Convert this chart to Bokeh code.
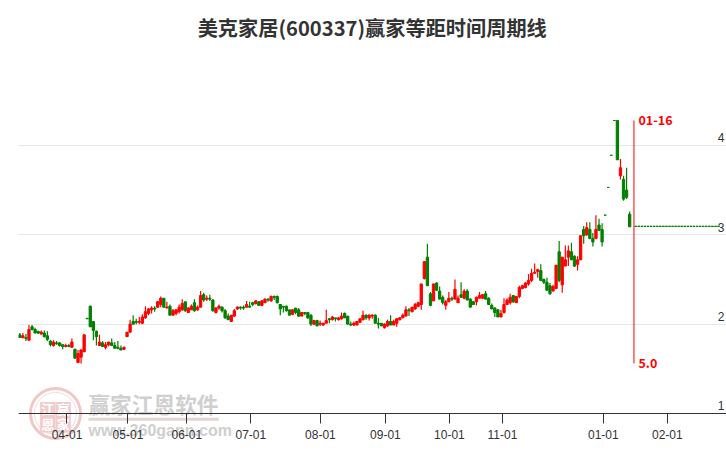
from bokeh.plotting import figure
from bokeh.models import FixedTicker, ColumnDataSource
from bokeh.core.properties import value
from bokeh.embed import file_html
from bokeh.resources import INLINE

title_text = "美克家居(600337)赢家等距时间周期线"
tick_pos = [15.4, 35.3, 54.5, 75.4, 98.1, 119.3, 140.2, 157.5, 190.4, 211.3]
tick_labels = ["04-01", "05-01", "06-01", "07-01", "08-01", "09-01", "10-01", "11-01", "01-01", "02-01"]
y_ticks = [1, 2, 3, 4]

opens = [1.88,1.85,1.85,1.82,1.97,1.94,1.92,1.89,1.90,1.87,1.81,1.76,1.79,1.79,1.77,1.75,1.76,1.74,1.72,1.57,1.63,1.69,2.065,2.20,2.03,1.92,1.76,1.79,1.74,1.77,1.79,1.76,1.74,1.73,1.72,1.86,
1.91,2.03,2.03,2.02,2.01,2.07,2.12,2.16,2.18,2.19,2.22,2.29,2.18,2.20,2.10,2.12,2.14,2.16,2.25,2.13,2.16,2.24,2.16,2.19,2.33,2.28,2.29,2.27,2.13,2.18,2.19,2.15,2.09,2.03,2.09,2.17,2.19,2.19,2.19,2.20,
2.24,2.23,2.25,2.21,2.24,2.28,2.26,2.31,2.31,2.22,2.20,2.20,2.16,2.11,2.18,2.16,2.09,2.13,2.13,2.10,2.00,2.04,2.00,1.99,2.01,2.06,2.05,2.07,2.05,2.06,2.12,2.09,2.00,1.99,1.99,2.02,2.05,2.10,2.07,2.09,2.10,2.01,2.01,1.96,1.98,2.03,1.99,2.01,2.05,2.07,2.09,2.16,2.14,2.17,2.20,2.22,2.51,2.75,2.34,2.26,2.46,2.37,2.30,2.21,2.25,2.29,2.28,2.24,2.33,2.29,2.37,2.28,2.25,2.25,2.29,
2.29,2.34,2.29,2.21,2.18,2.16,2.08,2.13,2.22,2.24,2.32,2.24,2.31,2.40,2.41,2.45,2.49,2.57,2.59,2.60,2.50,2.47,2.43,2.37,2.40,2.81,2.44,2.65,2.75,2.81,2.76,2.67,2.72,3.06,3.00,3.06,2.96,2.96,3.11,3.06,3.22,3.53,3.89,4.28,4.28,3.66,3.62,3.50,3.23]
closes = [1.85,1.87,1.84,1.94,1.94,1.90,1.90,1.91,1.86,1.83,1.77,1.80,1.78,1.76,1.75,1.76,1.75,1.80,1.62,1.67,1.71,1.88,2.06,1.97,1.93,1.86,1.80,1.75,1.77,1.80,1.76,1.73,1.73,1.71,1.74,1.91,
2.00,2.00,2.02,2.03,2.08,2.14,2.17,2.18,2.17,2.25,2.29,2.19,2.19,2.10,2.15,2.16,2.19,2.23,2.15,2.18,2.20,2.15,2.19,2.32,2.27,2.29,2.28,2.15,2.18,2.20,2.15,2.07,2.05,2.10,2.15,2.19,2.18,2.18,2.22,2.19,
2.22,2.26,2.21,2.26,2.28,2.27,2.31,2.30,2.24,2.17,2.19,2.15,2.10,2.16,2.13,2.09,2.13,2.12,2.07,2.00,2.04,1.98,2.01,2.01,2.04,2.05,2.08,2.06,2.07,2.09,2.07,2.00,1.99,2.01,2.03,2.06,2.10,2.07,2.10,2.10,2.01,2.00,1.98,2.00,2.03,1.99,2.03,2.06,2.07,2.10,2.16,2.15,2.19,2.22,2.24,2.45,2.70,2.43,2.21,2.45,2.38,2.28,2.24,2.25,2.29,2.28,2.39,2.29,2.30,2.37,2.27,2.19,2.22,2.30,2.32,
2.33,2.28,2.22,2.17,2.13,2.08,2.12,2.22,2.27,2.30,2.25,2.31,2.41,2.43,2.46,2.49,2.57,2.58,2.61,2.49,2.47,2.38,2.34,2.42,2.66,2.49,2.75,2.72,2.82,2.72,2.65,2.72,2.99,2.99,3.08,2.96,2.92,3.06,3.05,2.92,3.22,3.53,3.89,4.28,3.84,3.75,3.40,3.42,3.09]
highs = [1.90,1.90,1.89,1.99,1.99,1.96,1.92,1.93,1.93,1.92,1.82,1.82,1.81,1.80,1.77,1.78,1.78,1.84,1.72,1.71,1.72,1.88,2.065,2.21,1.99,1.93,1.88,1.81,1.80,1.80,1.84,1.80,1.81,1.76,1.75,1.91,
2.05,2.10,2.06,2.08,2.11,2.20,2.18,2.20,2.20,2.26,2.31,2.29,2.25,2.22,2.17,2.17,2.22,2.28,2.25,2.19,2.22,2.28,2.21,2.37,2.35,2.32,2.33,2.28,2.19,2.22,2.20,2.17,2.12,2.10,2.17,2.20,2.20,2.21,2.26,2.25,
2.25,2.27,2.26,2.27,2.29,2.29,2.32,2.32,2.32,2.22,2.20,2.21,2.16,2.17,2.18,2.18,2.13,2.13,2.13,2.11,2.05,2.05,2.04,2.01,2.16,2.07,2.09,2.07,2.08,2.13,2.13,2.09,2.03,2.03,2.03,2.06,2.15,2.11,2.11,2.11,2.11,2.07,2.01,2.01,2.05,2.10,2.05,2.07,2.08,2.12,2.20,2.18,2.19,2.24,2.25,2.45,2.70,2.90,2.36,2.45,2.47,2.42,2.32,2.27,2.36,2.31,2.50,2.32,2.47,2.39,2.39,2.29,2.26,2.31,2.36,
2.33,2.37,2.30,2.23,2.19,2.17,2.16,2.29,2.29,2.34,2.32,2.31,2.43,2.44,2.47,2.56,2.62,2.68,2.62,2.67,2.51,2.52,2.46,2.44,2.66,2.93,2.75,2.88,2.88,2.91,2.77,2.76,2.99,3.10,3.14,3.14,3.02,3.22,3.18,3.13,3.22,3.53,3.89,4.28,4.28,3.85,3.66,3.75,3.26]
lows = [1.85,1.84,1.81,1.82,1.93,1.90,1.89,1.88,1.85,1.81,1.75,1.75,1.77,1.75,1.72,1.74,1.74,1.74,1.61,1.57,1.56,1.69,2.06,1.97,1.82,1.76,1.77,1.75,1.72,1.75,1.76,1.73,1.72,1.71,1.71,1.86,
1.91,2.00,2.00,2.00,2.00,2.06,2.10,2.12,2.14,2.18,2.19,2.19,2.18,2.10,2.10,2.10,2.12,2.15,2.14,2.13,2.16,2.14,2.15,2.19,2.25,2.26,2.26,2.14,2.12,2.16,2.13,2.06,2.05,2.03,2.08,2.16,2.16,2.16,2.19,2.19,
2.20,2.22,2.21,2.20,2.24,2.25,2.25,2.27,2.23,2.10,2.13,2.14,2.10,2.10,2.11,2.08,2.09,2.10,2.06,1.98,1.99,1.98,1.98,1.98,2.01,2.01,2.04,2.03,2.04,2.05,2.07,2.00,1.98,1.98,1.99,2.02,2.04,2.05,2.04,2.06,2.01,1.95,1.98,1.95,1.97,1.99,1.99,1.97,2.04,2.07,2.09,2.09,2.13,2.16,2.19,2.16,2.50,2.43,2.20,2.26,2.37,2.28,2.22,2.16,2.25,2.26,2.28,2.24,2.30,2.28,2.27,2.19,2.22,2.21,2.29,
2.28,2.28,2.22,2.17,2.08,2.08,2.08,2.12,2.22,2.22,2.24,2.24,2.29,2.39,2.40,2.43,2.47,2.56,2.52,2.48,2.45,2.37,2.33,2.37,2.39,2.47,2.35,2.65,2.65,2.72,2.64,2.60,2.72,2.90,2.99,2.95,2.87,2.95,3.04,2.87,3.22,3.53,3.89,4.28,3.84,3.62,3.38,3.40,3.09]

# flat projection after the signal date: every later session sits at 3.095
flat_opens = [3.095] * 28
flat_start = 201

signal_label = "01-16"
signal_x = 200.4
signal_top = 4.28
signal_bottom = 1.56
signal_value = "5.0"

RED = "#ff0000"
GREEN = "#008000"
TEXT = "#333333"

xs = list(range(len(opens)))
rows = {"x": [], "o": [], "c": [], "h": [], "l": [], "col": []}
for i, (o, c, h, l) in enumerate(zip(opens, closes, highs, lows)):
    rows["x"].append(xs[i]); rows["o"].append(o); rows["c"].append(c)
    rows["h"].append(max(h, o, c)); rows["l"].append(min(l, o, c))
    rows["col"].append(RED if c > o else GREEN)
for k, o in enumerate(flat_opens):
    rows["x"].append(flat_start + k); rows["o"].append(o); rows["c"].append(o)
    rows["h"].append(o); rows["l"].append(o); rows["col"].append(GREEN)
src = ColumnDataSource(rows)

p = figure(width=726, height=442, output_backend="svg", toolbar_location=None,
           x_range=(-0.42, 230.6), y_range=(0.675, 5.623),
           min_border_left=18, min_border_right=0, min_border_top=0, min_border_bottom=0,
           outline_line_color=None)
p.background_fill_color = "white"
p.yaxis.visible = False
p.xgrid.visible = False
p.ygrid.ticker = FixedTicker(ticks=[2, 3, 4])
p.ygrid.grid_line_color = "#e6e6e6"
p.ygrid.grid_line_width = 1

ax = p.xaxis[0]
ax.fixed_location = 1
ax.ticker = FixedTicker(ticks=tick_pos)
ax.major_label_overrides = dict(zip(tick_pos, tick_labels))
ax.axis_line_color = "#333333"
ax.major_tick_line_color = "#333333"
ax.major_tick_out = 10
ax.major_tick_in = 0
ax.minor_tick_line_color = None
ax.major_label_standoff = 7
ax.major_label_text_font = "Liberation Sans"
ax.major_label_text_font_size = "12px"
ax.major_label_text_color = TEXT

# watermark
wm_grey = "#cfcfcf"
wm_pink = "#f1cccc"
seal_x, seal_y = 11.65, 1.0
p.scatter([seal_x], [seal_y], size=50, marker="circle", fill_color=None, line_color="#f0c8c8", line_width=3, level="underlay")
p.scatter([seal_x], [seal_y], size=42, marker="circle", fill_color=None, line_color="#f5dada", line_width=1, level="underlay")
for ch, dx, dy in [("江", -7.8, -7.0), ("赢", 7.8, -7.0), ("恩", -7.8, 8.0), ("家", 7.8, 8.0)]:
    p.scatter([seal_x], [seal_y], size=14, marker="square", x_offset=dx, y_offset=dy + 2,
              fill_color=wm_pink, line_color=None, level="underlay") if False else None
    p.text([seal_x], [seal_y], text=["\u25a0"], x_offset=dx, y_offset=dy + 2, text_align="center", text_baseline="middle",
           text_font=value("DejaVu Sans"), text_font_size="20px", text_color=wm_pink, level="underlay")
    p.text([seal_x], [seal_y], text=[ch], x_offset=dx, y_offset=dy + 2, text_align="center", text_baseline="middle",
           text_font=value("Noto Sans CJK SC"), text_font_size="13px", text_font_style="bold",
           text_color="white", level="underlay")
p.text([22.4], [1.11], text=["赢家江恩软件"], text_baseline="middle", text_font=value("Noto Sans CJK SC"),
       text_font_size="21.7px", text_font_style="bold", text_color=wm_grey, level="underlay")
p.segment([22.4], [0.935], [64.9], [0.935], line_color="#e4d4d4", line_width=3, level="underlay")
p.text([22.4], [0.81], text=["www.360gann.com"], text_baseline="middle", text_font=value("Liberation Sans"),
       text_font_size="16px", text_font_style="bold", text_color=wm_grey, level="underlay")

# candles
p.segment("x", "h", "x", "l", source=src, line_color="col", line_width=1.2)
p.vbar(x="x", top="o", bottom="c", width=0.75, source=src, fill_color="col", line_color="col", line_width=1)

# signal
p.segment([signal_x], [signal_top], [signal_x], [signal_bottom], line_color=RED, line_width=1)
p.text([signal_x], [signal_top], text=[signal_label], x_offset=4.5, text_baseline="middle",
       text_font=value("Noto Sans CJK SC"), text_font_size="12.5px", text_font_style="bold", text_color=RED)
p.text([signal_x], [signal_bottom], text=[signal_value], x_offset=4.5, text_baseline="middle",
       text_font=value("Noto Sans CJK SC"), text_font_size="12.5px", text_font_style="bold", text_color=RED)

# price labels
p.text([229.9] * len(y_ticks), y_ticks, text=[str(v) for v in y_ticks], y_offset=-7.5,
       text_align="right", text_baseline="middle", text_font=value("Liberation Sans"),
       text_font_size="12px", text_color=TEXT)

# title
p.text([115], [5.32], text=[title_text], text_align="center", text_baseline="middle",
       text_font=value("Noto Sans CJK SC"), text_font_size="20.2px", text_font_style="bold", text_color=TEXT)

open("out.html", "w").write(file_html(p, INLINE))
